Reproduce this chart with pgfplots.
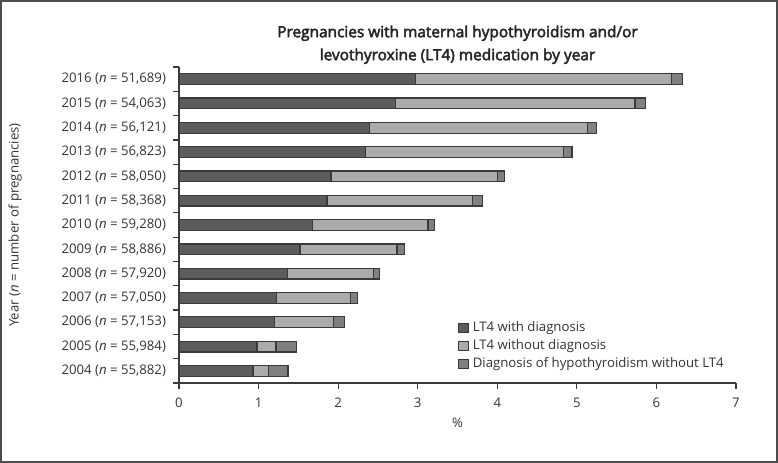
\documentclass[border=0pt]{standalone}
\usepackage{fontspec}
\setmainfont{Open Sans}
\newfontfamily\titlefont[FakeBold=3]{Open Sans}
\usepackage{pgfplots}
\pgfplotsset{compat=1.18}

\definecolor{cdark}{HTML}{5C5C5C}
\definecolor{clight}{HTML}{ABABAB}
\definecolor{cmid}{HTML}{808080}
\definecolor{cedge}{HTML}{3A3A3A}
\definecolor{ctext}{HTML}{333333}

\pgfplotstableread{
idx withdiag withoutdiag diagonly
0  0.93 0.19 0.25
1  0.98 0.24 0.26
2  1.20 0.74 0.14
3  1.23 0.93 0.08
4  1.36 1.08 0.08
5  1.52 1.22 0.09
6  1.68 1.45 0.08
7  1.86 1.83 0.12
8  1.91 2.09 0.09
9  2.34 2.49 0.11
10 2.39 2.74 0.12
11 2.72 3.01 0.13
12 2.97 3.22 0.14
}\lttdata

\begin{document}
\begin{tikzpicture}
\begin{axis}[
  name=ax,
  scale only axis, width=278.5pt, height=158pt,
  xbar stacked, bar width=5.4pt,
  xmin=0, xmax=7, ymin=-0.5, ymax=12.5,
  axis lines=left, axis line style={-, draw=cedge, line width=0.6pt},
  tick align=outside, major tick length=3pt, minor tick length=3pt,
  xtick={0,...,7},
  ytick={0,...,12},
  yticklabels={
    {2004 (\textit{n} = 55,882)}, {2005 (\textit{n} = 55,984)}, {2006 (\textit{n} = 57,153)},
    {2007 (\textit{n} = 57,050)}, {2008 (\textit{n} = 57,920)}, {2009 (\textit{n} = 58,886)},
    {2010 (\textit{n} = 59,280)}, {2011 (\textit{n} = 58,368)}, {2012 (\textit{n} = 58,050)},
    {2013 (\textit{n} = 56,823)}, {2014 (\textit{n} = 56,121)}, {2015 (\textit{n} = 54,063)},
    {2016 (\textit{n} = 51,689)}},
  ytick style={draw=none},
  minor ytick={-0.5,0.5,...,12.5},
  minor y tick style={draw=cedge, line width=0.6pt},
  x tick style={draw=cedge, line width=0.6pt},
  /pgf/number format/assume math mode=true,
  ticklabel style={font=\fontsize{6.6}{8}\selectfont, text=ctext},
  xticklabel style={yshift=-1pt},
  xlabel={\%}, xlabel style={font=\fontsize{6.6}{8}\selectfont, text=ctext, yshift=2pt},
  ylabel={Year (\textit{n} = number of pregnancies)},
  ylabel style={font=\fontsize{6.6}{8}\selectfont, text=ctext, yshift=13pt},
  title={Pregnancies with maternal hypothyroidism and/or\\levothyroxine (LT4) medication by year},
  title style={font=\titlefont\fontsize{7.7}{11.5}\selectfont, text=black!85, align=center, yshift=-8pt},
  legend style={at={(0.497,0.215)}, anchor=north west, draw=none, fill=none,
    font=\fontsize{6.6}{8}\selectfont, text=ctext, row sep=-1.5pt,
    inner sep=1pt},
  legend cell align=left,
  legend image code/.code={\draw[#1, line width=0.5pt] (0pt,-2.4pt) rectangle (4.8pt,2.4pt);},
  every axis plot/.append style={draw=cedge, line width=0.6pt},
  clip=false,
]
\addplot[fill=cdark] table[x=withdiag, y=idx] {\lttdata};
\addplot[fill=clight] table[x=withoutdiag, y=idx] {\lttdata};
\addplot[fill=cmid] table[x=diagonly, y=idx] {\lttdata};
\legend{LT4 with diagnosis, LT4 without diagnosis, Diagnosis of hypothyroidism without LT4}
\end{axis}
\draw[draw=black!70, line width=1pt]
  ([xshift=-89pt, yshift=-39.5pt]ax.south west) rectangle ([xshift=20.5pt, yshift=33pt]ax.north east);
\end{tikzpicture}
\end{document}
